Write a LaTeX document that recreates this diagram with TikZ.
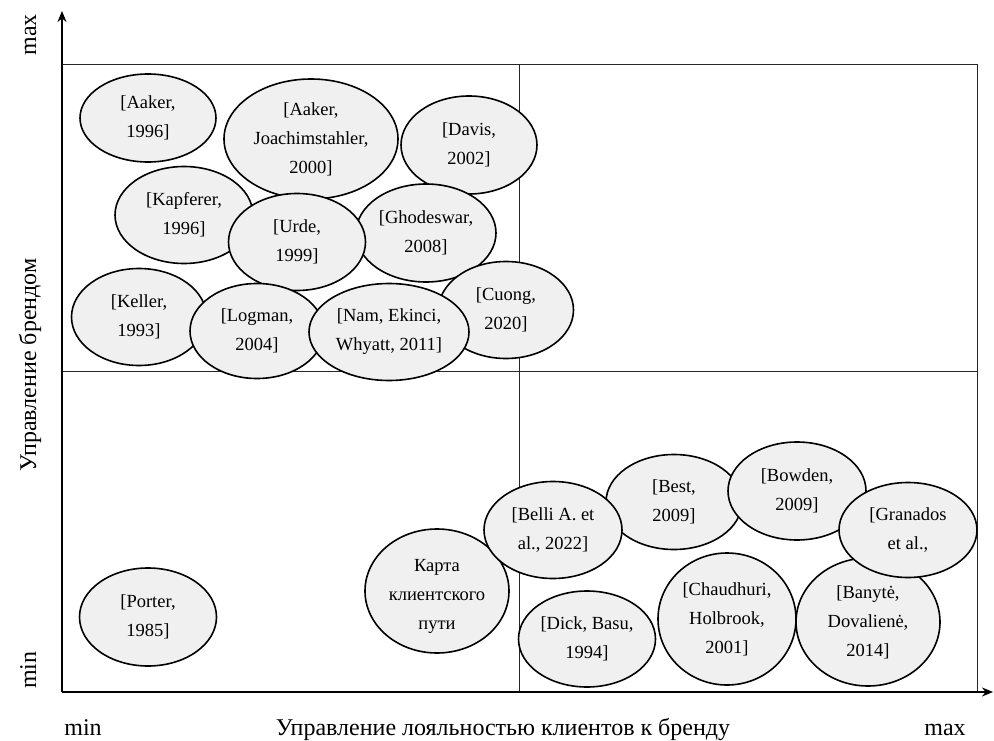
\documentclass[tikz,border=0pt]{standalone}
\usepackage{fontspec}
\setmainfont{Liberation Serif}
\usetikzlibrary{shapes.geometric,arrows.meta}
\definecolor{bubblefill}{HTML}{F0F0F0}
\newcommand{\ovalnode}[6]{%
  \node[bubble,minimum width=#4pt,minimum height=#5pt] (#1) at (#2,#3) {};
  \node[bubbletext] (#1-t) at (#1.center) {#6};}
\begin{document}
\begin{tikzpicture}[x=1pt,y=-1pt,
  bubble/.style={ellipse, draw=black, line width=1.6pt, fill=bubblefill, inner sep=0pt},
  bubbletext/.style={align=center, inner sep=0pt, font=\fontsize{18.5}{29}\selectfont},
  axislbl/.style={inner sep=0pt, font=\fontsize{24}{28}\selectfont},
  gridline/.style={line width=0.9pt, draw=black!85},
  axisline/.style={line width=2.2pt, -{Stealth[length=11pt,width=9pt]}}]
\useasboundingbox (0,0) rectangle (994,741);

% quadrant grid
\coordinate (gtl) at (62,64);
\coordinate (gbr) at (977,692);
\coordinate (vt) at (519,64);
\coordinate (vb) at (519,692);
\coordinate (hl) at (62,371);
\coordinate (hr) at (977,371);
\draw[gridline] (gtl) rectangle (gbr);
\draw[gridline] (vt) -- (vb);
\draw[gridline] (hl) -- (hr);

% axes
\coordinate (origin) at (62,692);
\coordinate (ytop) at (62,11);
\coordinate (xend) at (993,692);
\draw[axisline] (origin) -- (ytop);
\draw[axisline] (origin) -- (xend);

% axis labels
\node[axislbl, rotate=90, anchor=base] (ymax) at (36,35) {max};
\node[axislbl, rotate=90, anchor=base] (ymin) at (36,670) {min};
\node[axislbl, rotate=90, anchor=base] (ytitle) at (36,365) {Управление брендом};
\node[axislbl, anchor=base] (xmin) at (83,735) {min};
\node[axislbl, anchor=base] (xtitle) at (503,735) {Управление лояльностью клиентов к бренду};
\node[axislbl, anchor=base] (xmax) at (945,735) {max};

% upper-left quadrant
\ovalnode{aaker96}{148}{118}{136}{88}{[Aaker,\\1996]}
\ovalnode{aaker00}{311}{139}{174}{120}{[Aaker,\\Joachimstahler,\\2000]}
\ovalnode{davis}{469}{145}{136}{98}{[Davis,\\2002]}
\ovalnode{kapferer}{184}{215}{138}{97}{[Kapferer,\\1996]}
\ovalnode{ghodeswar}{426}{233}{140}{98}{[Ghodeswar,\\2008]}
\ovalnode{urde}{297}{242}{137}{97}{[Urde,\\1999]}
\ovalnode{keller}{139}{317}{135}{97}{[Keller,\\1993]}
\ovalnode{logman}{257}{331}{134}{95}{[Logman,\\2004]}
\ovalnode{cuong}{506}{310}{135}{97}{[Cuong,\\2020]}
\ovalnode{nam}{389}{332}{160}{97}{[Nam, Ekinci,\\Whyatt, 2011]}

% lower-left quadrant
\ovalnode{porter}{148}{617}{137}{98}{[Porter,\\1985]}
\node[bubble,minimum width=144pt,minimum height=124pt] (karta) at (437,591) {};
\node[bubbletext] (karta-t) at (437,596) {Карта\\клиентского\\пути};

% lower-right quadrant
\ovalnode{best}{674}{502}{136}{95}{[Best,\\2009]}
\ovalnode{belli}{553}{530}{138}{97}{[Belli A. et\\al., 2022]}
\ovalnode{dick}{587}{639}{137}{96}{[Dick, Basu,\\1994]}
\ovalnode{chaudhuri}{727}{619}{138}{132}{[Chaudhuri,\\Holbrook,\\2001]}
\ovalnode{banyte}{868}{622}{144}{128}{[Banytė,\\Dovalienė,\\2014]}
\ovalnode{bowden}{797}{491}{138}{98}{[Bowden,\\2009]}
\ovalnode{granados}{908}{530}{138}{95}{[Granados\\et al.,}
\end{tikzpicture}
\end{document}
